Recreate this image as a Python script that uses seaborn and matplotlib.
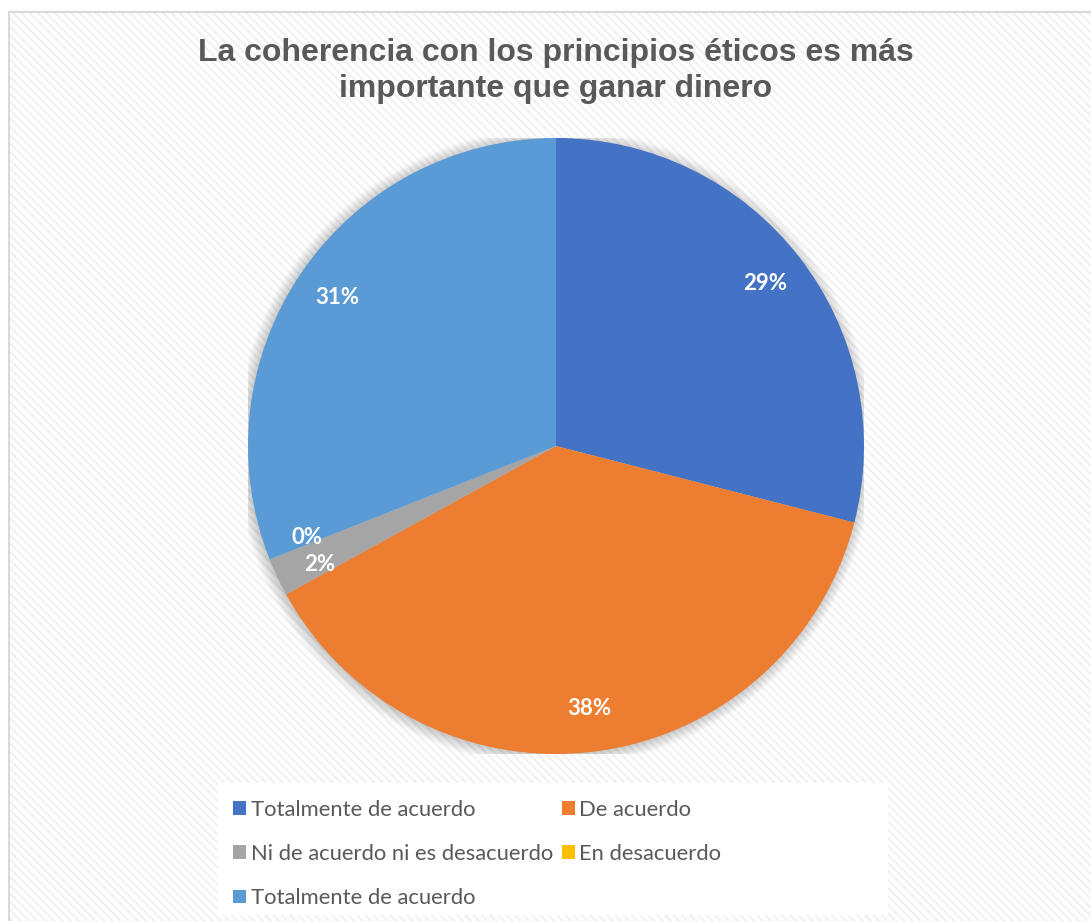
import numpy as np
import seaborn as sns
import matplotlib.pyplot as plt
from matplotlib.patches import Rectangle, Circle, Patch
from matplotlib.lines import Line2D

# data
categorias = ["Totalmente de acuerdo", "De acuerdo", "Ni de acuerdo ni es desacuerdo",
              "En desacuerdo", "Totalmente de acuerdo"]
porcentajes = [29, 38, 2, 0, 31]
colores = ["#4472C4", "#ED7D31", "#A5A5A5", "#FFC000", "#5B9BD5"]
titulo = "La coherencia con los principios éticos es más\nimportante que ganar dinero"

sns.set_theme(style="white")
plt.rcParams["hatch.linewidth"] = 1.6

W, H = 1091, 921
fig = plt.figure(figsize=(W / 100, H / 100), dpi=100)
fig.patch.set_facecolor("white")

# hatched chart area + border
bg = Rectangle((9 / W, 0), 1, 1 - 12 / H, transform=fig.transFigure,
               facecolor="white", edgecolor="#f1f1f1", hatch="\\\\\\\\", lw=0, zorder=0)
fig.add_artist(bg)
fig.add_artist(Line2D([9 / W, 9 / W], [0, 1 - 12 / H], transform=fig.transFigure,
                      color="#d9d9d9", lw=1.5))
fig.add_artist(Line2D([9 / W, 1], [1 - 12 / H, 1 - 12 / H], transform=fig.transFigure,
                      color="#d9d9d9", lw=1.5))

# title
fig.text(556 / W, 1 - 38 / H, titulo, ha="center", va="top", fontsize=23,
         fontweight="bold", color="#595959", family="Liberation Sans", linespacing=1.27)

# pie
cx, cy, r = 556, 446, 308
ax = fig.add_axes([(cx - r) / W, 1 - (cy + r) / H, 2 * r / W, 2 * r / H])
ax.axis("off")

# soft shadow
for k in range(10):
    ax.add_patch(Circle((-0.004, -0.004), 1.0 + 0.004 * k, facecolor="black",
                        alpha=0.018, lw=0, zorder=0))

wedges, texts, autotexts = ax.pie(
    porcentajes, colors=colores, startangle=90, counterclock=False,
    autopct="%1.0f%%", pctdistance=0.86, radius=1,
    wedgeprops=dict(lw=0),
    textprops=dict(color="white", fontsize=16, fontweight="bold", family="Lato"))
ax.set_xlim(-1, 1)
ax.set_ylim(-1, 1)
ax.set_aspect("equal")
for w in wedges:
    w.set_zorder(2)
for t in autotexts:
    t.set_zorder(3)
# nudge the tiny slice labels apart
x0, y0 = autotexts[3].get_position()
autotexts[3].set_position((x0 - 0.01, y0 + 0.02))
x2, y2 = autotexts[2].get_position()
autotexts[2].set_position((x2 + 0.01, y2 - 0.02))

# legend box
fig.add_artist(Rectangle((218 / W, 1 - 915 / H), 670 / W, 132 / H,
                         transform=fig.transFigure, facecolor="white", lw=0, zorder=1))
handles = [Patch(facecolor=c, edgecolor="none") for c in colores]
orden = [0, 2, 4, 1, 3]
leg = fig.legend([handles[i] for i in orden], [categorias[i] for i in orden],
                 ncol=2, loc="upper left", bbox_to_anchor=(222 / W, 1 - 789 / H),
                 frameon=False, handlelength=0.6, handleheight=0.6, handletextpad=0.2,
                 columnspacing=0.4, labelspacing=1.1, borderpad=0,
                 prop=dict(family="Lato", size=15.8))
for t in leg.get_texts():
    t.set_color("#595959")

fig.savefig("out.png", dpi=100)
